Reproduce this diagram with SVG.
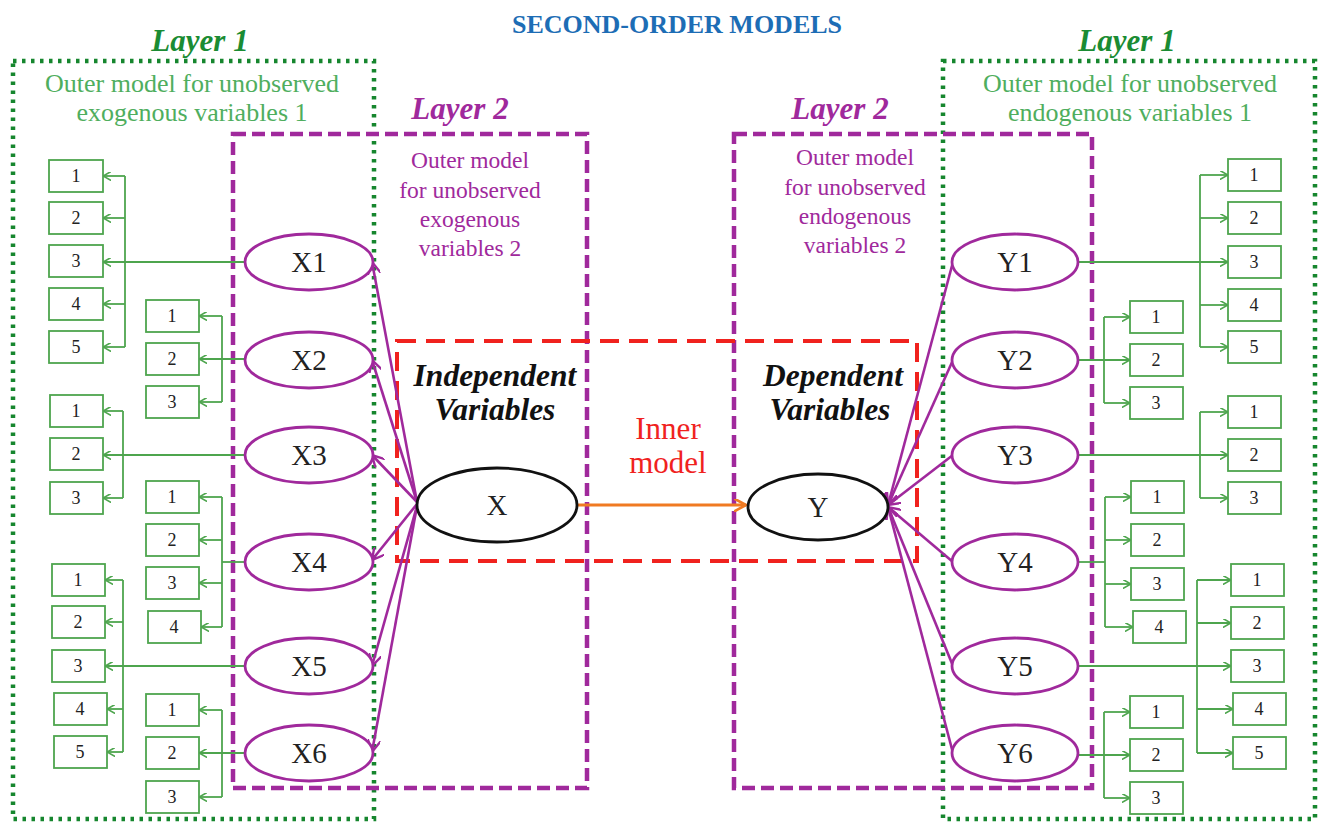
<svg xmlns="http://www.w3.org/2000/svg" width="1320" height="823" viewBox="0 0 1320 823" font-family="'Liberation Serif', 'Times New Roman', serif">
<defs>
<style>
text{font-family:'Liberation Serif','Times New Roman',serif}
.bg{fill:#fff}
.l1{fill:none;stroke:#16862e;stroke-width:4.5;stroke-dasharray:3.5 5.5}
.l2{fill:none;stroke:#a0299c;stroke-width:4.5;stroke-dasharray:13 6}
.inner{fill:none;stroke:#f0221e;stroke-width:4;stroke-dasharray:19 10}
.ind{fill:#fff;stroke:#4ea54e;stroke-width:1.8}
.indt{font-size:18px;fill:#222;text-anchor:middle}
.lat{fill:#fff;stroke:#a0299c;stroke-width:2.8}
.latt{font-size:29px;fill:#222;text-anchor:middle}
.main{fill:#fff;stroke:#111;stroke-width:2.8}
.gl{fill:none;stroke:#4ea54e;stroke-width:1.8}
.pl{fill:none;stroke:#a0299c;stroke-width:2.6}
.ol{fill:none;stroke:#f07a22;stroke-width:3}
.title{font-size:26px;font-weight:bold;fill:#1d6db5;text-anchor:middle}
.lay1{font-size:31px;font-weight:bold;font-style:italic;fill:#1a8c33;text-anchor:middle}
.lay2{font-size:31px;font-weight:bold;font-style:italic;fill:#a0299c;text-anchor:middle}
.gsub{font-size:26px;fill:#4fae5e;text-anchor:middle}
.psub{font-size:23.5px;fill:#a0299c;text-anchor:middle}
.bi{font-size:31.5px;font-weight:bold;font-style:italic;fill:#111;text-anchor:middle}
.red{font-size:31px;fill:#f0221e;text-anchor:middle}
</style>
<marker id="ga" viewBox="0 0 10 10" refX="9" refY="5" markerWidth="9" markerHeight="9" markerUnits="userSpaceOnUse" orient="auto"><path d="M0,0 L9,5 L0,10" fill="none" stroke="#4ea54e" stroke-width="1.8"/></marker>
<marker id="pa" viewBox="0 0 12 12" refX="11" refY="6" markerWidth="13" markerHeight="13" markerUnits="userSpaceOnUse" orient="auto"><path d="M0,0 L11,6 L0,12" fill="none" stroke="#a0299c" stroke-width="2.2"/></marker>
<marker id="oa" viewBox="0 0 12 12" refX="11" refY="6" markerWidth="13" markerHeight="13" markerUnits="userSpaceOnUse" orient="auto"><path d="M0,0 L11,6 L0,12" fill="none" stroke="#f07a22" stroke-width="2.4"/></marker>
</defs>
<rect class="bg" x="0" y="0" width="1320" height="823"/>

<g id="titles">
<text class="title" x="677" y="33">SECOND-ORDER MODELS</text>
<text class="lay1" x="200" y="51">Layer 1</text>
<text class="lay1" x="1127" y="51">Layer 1</text>
<text class="lay2" x="460" y="119">Layer 2</text>
<text class="lay2" x="840" y="119">Layer 2</text>
<text class="gsub" x="192" y="92">Outer model for unobserved</text>
<text class="gsub" x="192" y="121">exogenous variables 1</text>
<text class="gsub" x="1130" y="92">Outer model for unobserved</text>
<text class="gsub" x="1130" y="121">endogenous variables 1</text>
<text class="psub" x="470" y="168">Outer model</text>
<text class="psub" x="470" y="198">for unobserved</text>
<text class="psub" x="470" y="227">exogenous</text>
<text class="psub" x="470" y="256">variables 2</text>
<text class="psub" x="855" y="165">Outer model</text>
<text class="psub" x="855" y="195">for unobserved</text>
<text class="psub" x="855" y="224">endogenous</text>
<text class="psub" x="855" y="253">variables 2</text>
<text class="bi" x="495" y="386">Independent</text>
<text class="bi" x="495" y="420">Variables</text>
<text class="bi" x="833" y="386">Dependent</text>
<text class="bi" x="830" y="420">Variables</text>
<text class="red" x="668" y="439">Inner</text>
<text class="red" x="668" y="473">model</text>
</g>

<g id="frames">
<rect class="l1" x="13" y="61" width="361" height="758"/>
<rect class="l1" x="943" y="61" width="372" height="758"/>
<rect class="l2" x="233" y="134" width="354" height="654"/>
<rect class="l2" x="734" y="134" width="358" height="654"/>
<rect class="inner" x="397" y="341" width="520" height="220"/>
</g>

<g id="connectors">
<path class="gl" d="M245,262 H103" marker-end="url(#ga)"/>
<path class="gl" d="M125,176 V347"/>
<path class="gl" d="M125,176 H103" marker-end="url(#ga)"/>
<path class="gl" d="M125,218 H103" marker-end="url(#ga)"/>
<path class="gl" d="M125,304 H103" marker-end="url(#ga)"/>
<path class="gl" d="M125,347 H103" marker-end="url(#ga)"/>
<path class="gl" d="M245,359 H199" marker-end="url(#ga)"/>
<path class="gl" d="M222,316 V402"/>
<path class="gl" d="M222,316 H199" marker-end="url(#ga)"/>
<path class="gl" d="M222,402 H199" marker-end="url(#ga)"/>
<path class="gl" d="M245,455 H103" marker-end="url(#ga)"/>
<path class="gl" d="M123,411 V498"/>
<path class="gl" d="M123,411 H103" marker-end="url(#ga)"/>
<path class="gl" d="M123,498 H103" marker-end="url(#ga)"/>
<path class="gl" d="M245,562 H222"/>
<path class="gl" d="M222,497 V627"/>
<path class="gl" d="M222,497 H199" marker-end="url(#ga)"/>
<path class="gl" d="M222,540 H199" marker-end="url(#ga)"/>
<path class="gl" d="M222,583 H199" marker-end="url(#ga)"/>
<path class="gl" d="M222,627 H201" marker-end="url(#ga)"/>
<path class="gl" d="M245,666 H105" marker-end="url(#ga)"/>
<path class="gl" d="M123,580 V752"/>
<path class="gl" d="M123,580 H105" marker-end="url(#ga)"/>
<path class="gl" d="M123,622 H105" marker-end="url(#ga)"/>
<path class="gl" d="M123,709 H107" marker-end="url(#ga)"/>
<path class="gl" d="M123,752 H107" marker-end="url(#ga)"/>
<path class="gl" d="M245,753 H199" marker-end="url(#ga)"/>
<path class="gl" d="M222,710 V797"/>
<path class="gl" d="M222,710 H199" marker-end="url(#ga)"/>
<path class="gl" d="M222,797 H199" marker-end="url(#ga)"/>

<path class="gl" d="M1078,262 H1228" marker-end="url(#ga)"/>
<path class="gl" d="M1200,175 V347"/>
<path class="gl" d="M1200,175 H1228" marker-end="url(#ga)"/>
<path class="gl" d="M1200,218 H1228" marker-end="url(#ga)"/>
<path class="gl" d="M1200,305 H1228" marker-end="url(#ga)"/>
<path class="gl" d="M1200,347 H1228" marker-end="url(#ga)"/>
<path class="gl" d="M1078,360 H1130" marker-end="url(#ga)"/>
<path class="gl" d="M1104,317 V403"/>
<path class="gl" d="M1104,317 H1130" marker-end="url(#ga)"/>
<path class="gl" d="M1104,403 H1130" marker-end="url(#ga)"/>
<path class="gl" d="M1078,455 H1228" marker-end="url(#ga)"/>
<path class="gl" d="M1200,412 V498"/>
<path class="gl" d="M1200,412 H1228" marker-end="url(#ga)"/>
<path class="gl" d="M1200,498 H1228" marker-end="url(#ga)"/>
<path class="gl" d="M1078,562 H1105"/>
<path class="gl" d="M1105,497 V627"/>
<path class="gl" d="M1105,497 H1131" marker-end="url(#ga)"/>
<path class="gl" d="M1105,540 H1131" marker-end="url(#ga)"/>
<path class="gl" d="M1105,584 H1131" marker-end="url(#ga)"/>
<path class="gl" d="M1105,627 H1133" marker-end="url(#ga)"/>
<path class="gl" d="M1078,666 H1231" marker-end="url(#ga)"/>
<path class="gl" d="M1197,580 V753"/>
<path class="gl" d="M1197,580 H1231" marker-end="url(#ga)"/>
<path class="gl" d="M1197,623 H1231" marker-end="url(#ga)"/>
<path class="gl" d="M1197,709 H1233" marker-end="url(#ga)"/>
<path class="gl" d="M1197,753 H1233" marker-end="url(#ga)"/>
<path class="gl" d="M1078,755 H1130" marker-end="url(#ga)"/>
<path class="gl" d="M1104,712 V798"/>
<path class="gl" d="M1104,712 H1130" marker-end="url(#ga)"/>
<path class="gl" d="M1104,798 H1130" marker-end="url(#ga)"/>

<path class="pl" d="M417,502 L372,262" marker-end="url(#pa)"/>
<path class="pl" d="M417,502 L372,360" marker-end="url(#pa)"/>
<path class="pl" d="M417,502 L372,455" marker-end="url(#pa)"/>
<path class="pl" d="M417,504 L372,560" marker-end="url(#pa)"/>
<path class="pl" d="M417,506 L372,666" marker-end="url(#pa)"/>
<path class="pl" d="M417,506 L372,752" marker-end="url(#pa)"/>
<path class="pl" d="M953,262 L888,505" marker-end="url(#pa)"/>
<path class="pl" d="M953,360 L888,505" marker-end="url(#pa)"/>
<path class="pl" d="M953,455 L888,505" marker-end="url(#pa)"/>
<path class="pl" d="M953,562 L888,507" marker-end="url(#pa)"/>
<path class="pl" d="M953,666 L888,507" marker-end="url(#pa)"/>
<path class="pl" d="M953,753 L888,507" marker-end="url(#pa)"/>
<path class="ol" d="M577,505 H746" marker-end="url(#oa)"/>
</g>

<g id="node-X"><ellipse class="main" cx="497" cy="505" rx="80" ry="37"/><text class="latt" x="497" y="515">X</text></g>
<g id="node-Y"><ellipse class="main" cx="818" cy="507" rx="70" ry="33"/><text class="latt" x="818" y="517">Y</text></g>

<g id="node-X1"><ellipse class="lat" cx="309" cy="262" rx="64" ry="28"/><text class="latt" x="309" y="272">X1</text></g>
<g id="node-X2"><ellipse class="lat" cx="309" cy="360" rx="64" ry="28"/><text class="latt" x="309" y="370">X2</text></g>
<g id="node-X3"><ellipse class="lat" cx="309" cy="455" rx="64" ry="28"/><text class="latt" x="309" y="465">X3</text></g>
<g id="node-X4"><ellipse class="lat" cx="309" cy="562" rx="64" ry="28"/><text class="latt" x="309" y="572">X4</text></g>
<g id="node-X5"><ellipse class="lat" cx="309" cy="666" rx="64" ry="28"/><text class="latt" x="309" y="676">X5</text></g>
<g id="node-X6"><ellipse class="lat" cx="309" cy="753" rx="64" ry="28"/><text class="latt" x="309" y="763">X6</text></g>

<g id="node-Y1"><ellipse class="lat" cx="1015" cy="262" rx="63" ry="28"/><text class="latt" x="1015" y="272">Y1</text></g>
<g id="node-Y2"><ellipse class="lat" cx="1015" cy="360" rx="63" ry="28"/><text class="latt" x="1015" y="370">Y2</text></g>
<g id="node-Y3"><ellipse class="lat" cx="1015" cy="455" rx="63" ry="28"/><text class="latt" x="1015" y="465">Y3</text></g>
<g id="node-Y4"><ellipse class="lat" cx="1015" cy="562" rx="63" ry="28"/><text class="latt" x="1015" y="572">Y4</text></g>
<g id="node-Y5"><ellipse class="lat" cx="1015" cy="666" rx="63" ry="28"/><text class="latt" x="1015" y="676">Y5</text></g>
<g id="node-Y6"><ellipse class="lat" cx="1015" cy="753" rx="63" ry="28"/><text class="latt" x="1015" y="763">Y6</text></g>

<g id="ind-X1-1"><rect class="ind" x="49" y="160" width="54" height="32"/><text class="indt" x="76" y="182">1</text></g>
<g id="ind-X1-2"><rect class="ind" x="49" y="202" width="54" height="32"/><text class="indt" x="76" y="224">2</text></g>
<g id="ind-X1-3"><rect class="ind" x="49" y="245" width="54" height="32"/><text class="indt" x="76" y="267">3</text></g>
<g id="ind-X1-4"><rect class="ind" x="49" y="288" width="54" height="32"/><text class="indt" x="76" y="310">4</text></g>
<g id="ind-X1-5"><rect class="ind" x="49" y="331" width="54" height="32"/><text class="indt" x="76" y="353">5</text></g>
<g id="ind-X2-1"><rect class="ind" x="146" y="300" width="53" height="32"/><text class="indt" x="172" y="322">1</text></g>
<g id="ind-X2-2"><rect class="ind" x="146" y="343" width="53" height="32"/><text class="indt" x="172" y="365">2</text></g>
<g id="ind-X2-3"><rect class="ind" x="146" y="386" width="53" height="32"/><text class="indt" x="172" y="408">3</text></g>
<g id="ind-X3-1"><rect class="ind" x="50" y="395" width="53" height="32"/><text class="indt" x="76" y="417">1</text></g>
<g id="ind-X3-2"><rect class="ind" x="50" y="438" width="53" height="32"/><text class="indt" x="76" y="460">2</text></g>
<g id="ind-X3-3"><rect class="ind" x="50" y="482" width="53" height="32"/><text class="indt" x="76" y="504">3</text></g>
<g id="ind-X4-1"><rect class="ind" x="146" y="481" width="53" height="32"/><text class="indt" x="172" y="503">1</text></g>
<g id="ind-X4-2"><rect class="ind" x="146" y="524" width="53" height="32"/><text class="indt" x="172" y="546">2</text></g>
<g id="ind-X4-3"><rect class="ind" x="146" y="567" width="53" height="32"/><text class="indt" x="172" y="589">3</text></g>
<g id="ind-X4-4"><rect class="ind" x="148" y="611" width="53" height="32"/><text class="indt" x="174" y="633">4</text></g>
<g id="ind-X5-1"><rect class="ind" x="52" y="564" width="53" height="32"/><text class="indt" x="78" y="586">1</text></g>
<g id="ind-X5-2"><rect class="ind" x="52" y="606" width="53" height="32"/><text class="indt" x="78" y="628">2</text></g>
<g id="ind-X5-3"><rect class="ind" x="52" y="650" width="53" height="32"/><text class="indt" x="78" y="672">3</text></g>
<g id="ind-X5-4"><rect class="ind" x="54" y="693" width="53" height="32"/><text class="indt" x="80" y="715">4</text></g>
<g id="ind-X5-5"><rect class="ind" x="54" y="736" width="53" height="32"/><text class="indt" x="80" y="758">5</text></g>
<g id="ind-X6-1"><rect class="ind" x="146" y="694" width="53" height="32"/><text class="indt" x="172" y="716">1</text></g>
<g id="ind-X6-2"><rect class="ind" x="146" y="737" width="53" height="32"/><text class="indt" x="172" y="759">2</text></g>
<g id="ind-X6-3"><rect class="ind" x="146" y="781" width="53" height="32"/><text class="indt" x="172" y="803">3</text></g>

<g id="ind-Y1-1"><rect class="ind" x="1228" y="159" width="53" height="32"/><text class="indt" x="1254" y="181">1</text></g>
<g id="ind-Y1-2"><rect class="ind" x="1228" y="202" width="53" height="32"/><text class="indt" x="1254" y="224">2</text></g>
<g id="ind-Y1-3"><rect class="ind" x="1228" y="246" width="53" height="32"/><text class="indt" x="1254" y="268">3</text></g>
<g id="ind-Y1-4"><rect class="ind" x="1228" y="289" width="53" height="32"/><text class="indt" x="1254" y="311">4</text></g>
<g id="ind-Y1-5"><rect class="ind" x="1228" y="331" width="53" height="32"/><text class="indt" x="1254" y="353">5</text></g>
<g id="ind-Y2-1"><rect class="ind" x="1130" y="301" width="53" height="32"/><text class="indt" x="1156" y="323">1</text></g>
<g id="ind-Y2-2"><rect class="ind" x="1130" y="344" width="53" height="32"/><text class="indt" x="1156" y="366">2</text></g>
<g id="ind-Y2-3"><rect class="ind" x="1130" y="387" width="53" height="32"/><text class="indt" x="1156" y="409">3</text></g>
<g id="ind-Y3-1"><rect class="ind" x="1228" y="396" width="53" height="32"/><text class="indt" x="1254" y="418">1</text></g>
<g id="ind-Y3-2"><rect class="ind" x="1228" y="439" width="53" height="32"/><text class="indt" x="1254" y="461">2</text></g>
<g id="ind-Y3-3"><rect class="ind" x="1228" y="482" width="53" height="32"/><text class="indt" x="1254" y="504">3</text></g>
<g id="ind-Y4-1"><rect class="ind" x="1131" y="481" width="53" height="32"/><text class="indt" x="1157" y="503">1</text></g>
<g id="ind-Y4-2"><rect class="ind" x="1131" y="524" width="53" height="32"/><text class="indt" x="1157" y="546">2</text></g>
<g id="ind-Y4-3"><rect class="ind" x="1131" y="568" width="53" height="32"/><text class="indt" x="1157" y="590">3</text></g>
<g id="ind-Y4-4"><rect class="ind" x="1133" y="611" width="53" height="32"/><text class="indt" x="1159" y="633">4</text></g>
<g id="ind-Y5-1"><rect class="ind" x="1231" y="564" width="53" height="32"/><text class="indt" x="1257" y="586">1</text></g>
<g id="ind-Y5-2"><rect class="ind" x="1231" y="607" width="53" height="32"/><text class="indt" x="1257" y="629">2</text></g>
<g id="ind-Y5-3"><rect class="ind" x="1231" y="650" width="53" height="32"/><text class="indt" x="1257" y="672">3</text></g>
<g id="ind-Y5-4"><rect class="ind" x="1233" y="693" width="53" height="32"/><text class="indt" x="1259" y="715">4</text></g>
<g id="ind-Y5-5"><rect class="ind" x="1233" y="737" width="53" height="32"/><text class="indt" x="1259" y="759">5</text></g>
<g id="ind-Y6-1"><rect class="ind" x="1130" y="696" width="53" height="32"/><text class="indt" x="1156" y="718">1</text></g>
<g id="ind-Y6-2"><rect class="ind" x="1130" y="739" width="53" height="32"/><text class="indt" x="1156" y="761">2</text></g>
<g id="ind-Y6-3"><rect class="ind" x="1130" y="782" width="53" height="32"/><text class="indt" x="1156" y="804">3</text></g>
</svg>
